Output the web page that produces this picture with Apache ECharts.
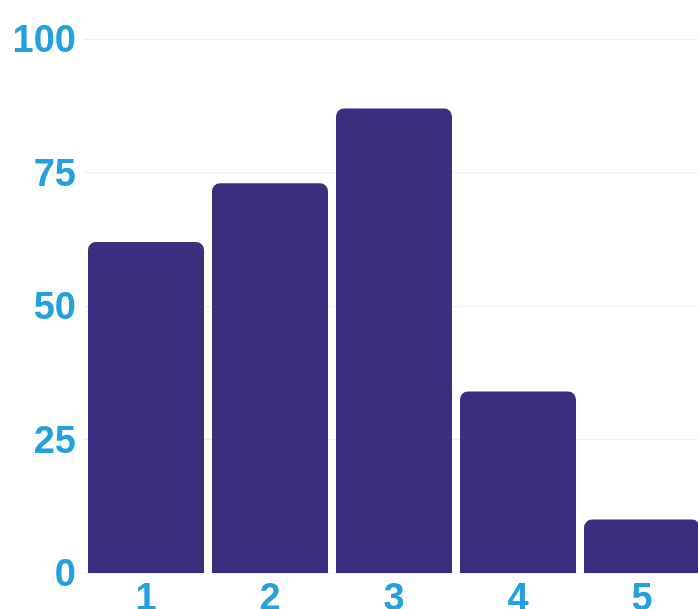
<!DOCTYPE html>
<html>
<head>
<meta charset="utf-8">
<script src="https://cdn.jsdelivr.net/npm/echarts@6/dist/echarts.min.js"></script>
<style>html,body{margin:0;padding:0;background:#fff;}#c{width:698px;height:609px;}</style>
</head>
<body>
<div id="c"></div>
<script>
const categories = ['1', '2', '3', '4', '5'];
const values = [62, 73, 87, 34, 10];
const yTicks = [0, 25, 50, 75, 100];

const labelColor = '#22a0e0';
const chart = echarts.init(document.getElementById('c'), null, {renderer: 'canvas'});
chart.setOption({
  animation: false,
  backgroundColor: '#ffffff',
  grid: {left: 84, right: -6, top: 39, bottom: 36, containLabel: false, outerBoundsMode: 'none'},
  xAxis: {
    type: 'category',
    data: categories,
    axisLine: {show: true, lineStyle: {color: '#e6f1fa', width: 1}},
    axisTick: {show: false},
    axisLabel: {color: labelColor, fontFamily: 'Liberation Sans', fontWeight: 'bold', fontSize: 38, margin: 8}
  },
  yAxis: {
    type: 'value',
    min: yTicks[0],
    max: yTicks[yTicks.length - 1],
    interval: 25,
    axisLine: {show: false},
    axisTick: {show: false},
    splitLine: {show: true, lineStyle: {color: '#e6f1fa', width: 1}},
    axisLabel: {
      color: labelColor, fontFamily: 'Liberation Sans', fontWeight: 'bold', fontSize: 38, margin: 8,
      formatter: '{a|{value}}',
      rich: {a: {color: labelColor, fontFamily: 'Liberation Sans', fontWeight: 'bold', fontSize: 38, padding: [6, 0, 0, 0]}}
    }
  },
  series: [{
    type: 'bar',
    data: values,
    barCategoryGap: '6.45%',
    itemStyle: {color: '#3a2f7e', borderRadius: [8, 8, 0, 0]}
  }]
});
</script>
</body>
</html>
